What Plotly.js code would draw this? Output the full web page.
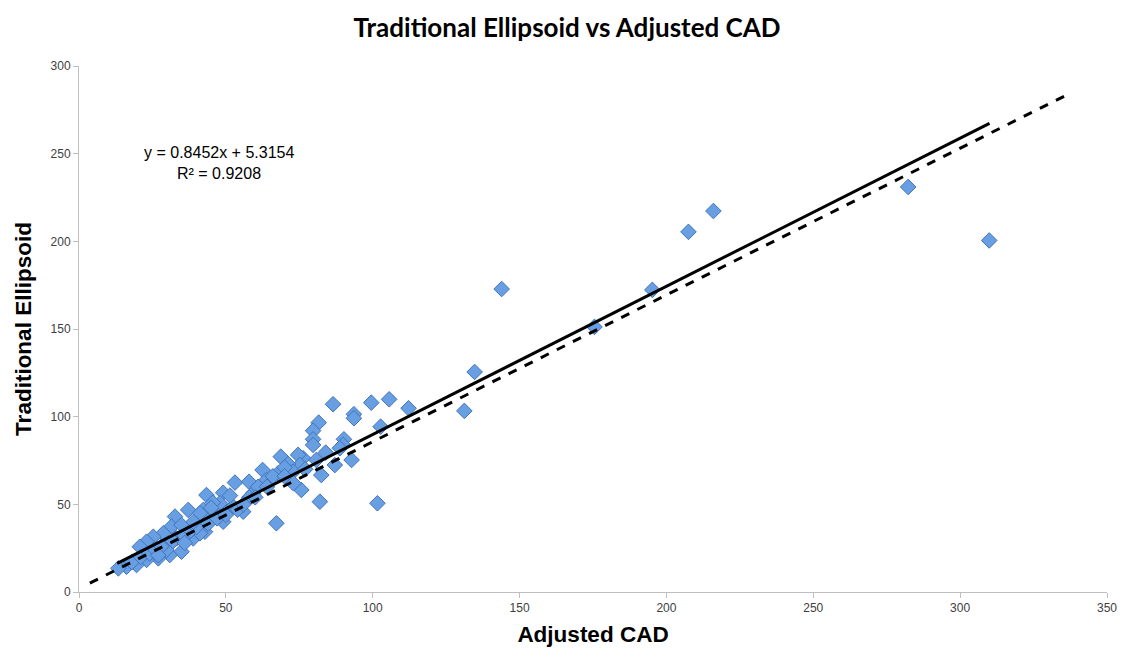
<!DOCTYPE html>
<html>
<head>
<meta charset="utf-8">
<script src="https://cdn.plot.ly/plotly-3.0.1.min.js"></script>
<style>html,body{margin:0;padding:0;background:#fff;}#chart{width:1123px;height:653px;}</style>
</head>
<body>
<div id="chart"></div>
<script>
// Adjusted CAD (x) and Traditional Ellipsoid (y) values
const adjustedCAD = [
  309.9, 282.3, 216.0, 207.5, 195.2, 175.5, 143.9, 134.7, 131.2, 112.2,
  105.6, 99.5, 102.7, 101.6, 86.5, 93.6, 93.6, 81.6, 79.7, 79.7,
  79.7, 90.2, 89.9, 84.0, 88.8, 76.3, 80.8, 87.1, 92.8, 82.5,
  75.7, 82.0, 68.7, 74.6, 75.2, 71.2, 62.5, 63.8, 67.8, 72.9,
  53.1, 57.9, 49.1, 43.4, 59.3, 48.0, 52.5, 55.9, 46.3, 42.3,
  67.2, 49.1, 43.4, 42.9, 37.2, 32.7, 41.2, 31.5, 34.9, 28.7,
  25.3, 23.0, 20.7, 30.4, 33.2, 38.9, 41.2, 34.9, 30.9, 27.0,
  23.0, 19.6, 16.2, 13.4, 29.8, 61.0, 66.0, 70.0, 58.0, 45.6,
  51.4, 18.0, 21.0, 24.0, 26.0, 28.0, 32.0, 36.0, 38.0, 40.0,
  44.0, 36.0, 27.0, 39.0, 45.0, 47.0, 50.0, 54.0, 56.0, 60.0,
  64.0, 70.0, 73.0, 77.0
];
const traditionalEllipsoid = [
  200.5, 231.0, 217.3, 205.4, 172.3, 151.2, 172.8, 125.5, 103.3, 104.8,
  109.9, 108.0, 94.3, 50.6, 107.1, 101.4, 99.1, 96.6, 92.0, 87.1,
  83.9, 87.1, 83.9, 79.5, 82.0, 76.3, 75.3, 72.4, 75.3, 66.7,
  58.2, 51.5, 77.2, 78.2, 72.4, 73.0, 69.6, 63.9, 67.7, 68.6,
  62.4, 62.9, 56.6, 55.3, 56.3, 50.6, 48.7, 45.8, 45.2, 46.8,
  39.2, 40.1, 41.1, 34.4, 46.8, 43.0, 44.9, 37.3, 38.2, 33.5,
  31.5, 28.7, 25.8, 27.8, 30.6, 30.6, 33.5, 23.0, 21.1, 19.2,
  18.3, 15.4, 14.4, 13.5, 24.0, 60.0, 66.0, 71.0, 54.0, 51.0,
  55.0, 17.0, 20.0, 22.0, 24.0, 26.0, 29.0, 32.0, 35.0, 37.0,
  39.0, 28.0, 21.0, 40.0, 48.0, 42.0, 44.0, 47.0, 50.0, 54.0,
  60.0, 66.0, 62.0, 70.0
];

// Linear trend line (from the displayed equation)
const trendSlope = 0.8452;
const trendIntercept = 5.3154;
const trendRange = [13, 310];
// Dashed reference fit line
const refSlope = 0.837;
const refIntercept = 2.0;
const refRange = [3.7, 336];

const xTicks = [0, 50, 100, 150, 200, 250, 300, 350];
const yTicks = [0, 50, 100, 150, 200, 250, 300];

const traces = [
  {
    x: adjustedCAD, y: traditionalEllipsoid, type: 'scatter', mode: 'markers',
    marker: {symbol: 'diamond', size: 12, color: 'rgb(104,158,226)',
             line: {color: 'rgb(66,116,186)', width: 1}},
    hoverinfo: 'x+y', showlegend: false
  },
  {
    x: refRange, y: refRange.map(v => refSlope * v + refIntercept),
    type: 'scatter', mode: 'lines',
    line: {color: '#000', width: 3, dash: 'dash'}, showlegend: false
  },
  {
    x: trendRange, y: trendRange.map(v => trendSlope * v + trendIntercept),
    type: 'scatter', mode: 'lines',
    line: {color: '#000', width: 3}, showlegend: false
  }
];

const axisCommon = {
  showgrid: false, zeroline: false, showline: true, linecolor: '#bfbfbf', linewidth: 1,
  ticks: 'outside', tickcolor: '#bfbfbf', ticklen: 5,
  tickfont: {family: 'Liberation Sans, Arial, sans-serif', size: 12, color: '#404040'}
};

const layout = {
  width: 1123, height: 653,
  margin: {l: 79, r: 16, t: 66, b: 61},
  paper_bgcolor: '#fff', plot_bgcolor: '#fff',
  title: {text: '<b>Traditional Ellipsoid vs Adjusted CAD</b>',
          font: {family: 'Lato, Open Sans, sans-serif', size: 26, color: '#000'},
          x: 0.505, xanchor: 'center', y: 0.958, yanchor: 'middle'},
  xaxis: Object.assign({}, axisCommon, {
    range: [0, 350], tickvals: xTicks, ticktext: xTicks.map(String),
    title: {text: '<b>Adjusted CAD</b>', standoff: 11,
            font: {family: 'Liberation Sans, Arial, sans-serif', size: 22.5, color: '#000'}}
  }),
  yaxis: Object.assign({}, axisCommon, {
    range: [0, 300], tickvals: yTicks, ticktext: yTicks.map(String),
    title: {text: '<b>Traditional Ellipsoid</b>', standoff: 12,
            font: {family: 'Liberation Sans, Arial, sans-serif', size: 22.5, color: '#000'}}
  }),
  annotations: [
    {xref: 'x', yref: 'y', x: 47.5, y: 250.7, text: 'y = 0.8452x + 5.3154', showarrow: false,
     font: {family: 'Liberation Sans, Arial, sans-serif', size: 16, color: '#000'}, xanchor: 'center'},
    {xref: 'x', yref: 'y', x: 47.5, y: 238.6, text: 'R² = 0.9208', showarrow: false,
     font: {family: 'Liberation Sans, Arial, sans-serif', size: 16, color: '#000'}, xanchor: 'center'}
  ]
};

Plotly.newPlot('chart', traces, layout, {displayModeBar: false, staticPlot: true});
</script>
</body>
</html>
